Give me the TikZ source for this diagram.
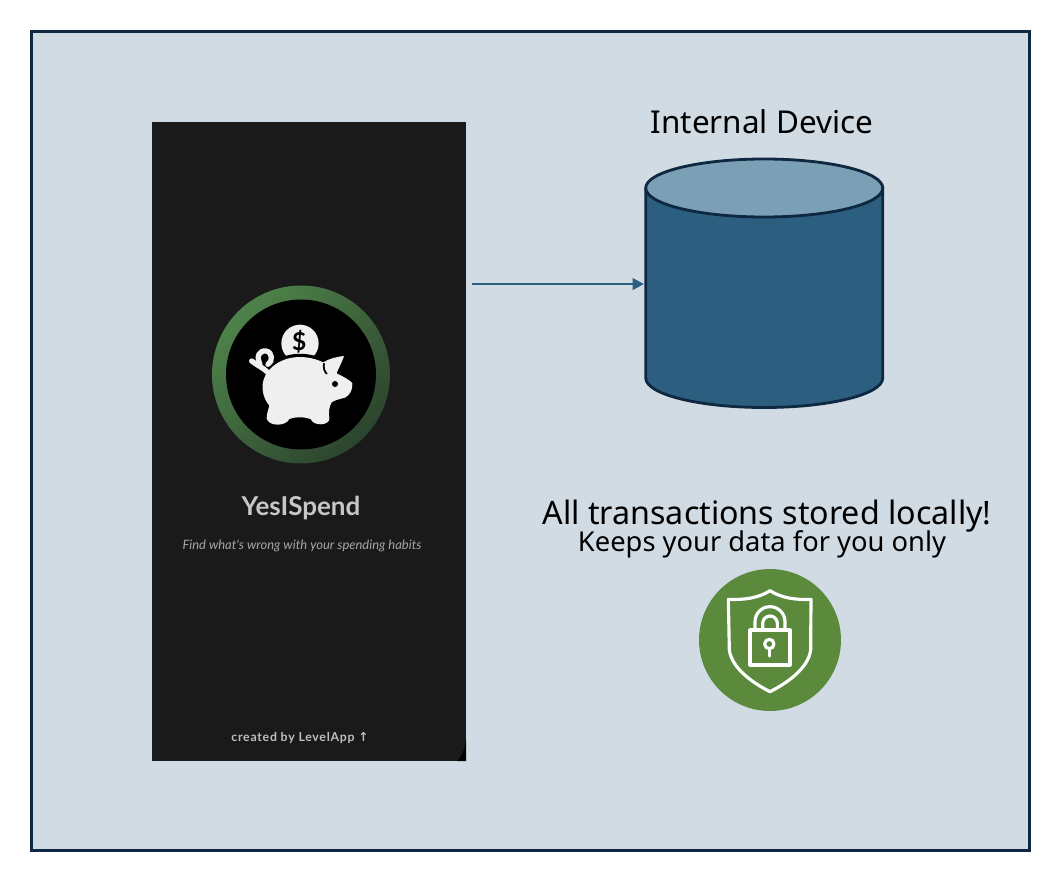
\documentclass[tikz,border=0pt]{standalone}
\usepackage{fontspec}
\usepackage{xcolor}
\setmainfont{Noto Sans}
\newfontfamily\appfont{Lato}
\newfontfamily\symfont{DejaVu Sans}
\usetikzlibrary{arrows.meta,positioning,calc}
\definecolor{navy}{HTML}{0E2841}
\definecolor{panelblue}{HTML}{D0DBE3}
\definecolor{dbblue}{HTML}{2C5E80}
\definecolor{dbtop}{HTML}{7BA0B5}
\definecolor{phoneblack}{HTML}{1A1A1A}
\definecolor{shieldgreen}{HTML}{5B8A3C}
\definecolor{pigwhite}{HTML}{EFEFEF}
\definecolor{ringlight}{HTML}{4E8249}
\definecolor{ringdark}{HTML}{2C442D}

\begin{document}
\begin{tikzpicture}[x=0.02cm, y=-0.02cm,
  panel/.style={draw=navy, line width=1.6pt, fill=panelblue, minimum width=19.96cm, minimum height=16.38cm, inner sep=0pt},
  phone/.style={fill=phoneblack, minimum width=6.28cm, minimum height=12.78cm, inner sep=0pt},
  store/.style={minimum width=4.74cm, minimum height=5cm, inner sep=0pt, outer sep=0pt},
  dbline/.style={draw=navy, line width=1.6pt, line join=round},
  lbl/.style={inner sep=0pt, text=black},
  apptxt/.style={inner sep=0pt, font=\appfont},
  arr/.style={-{Triangle[length=6.5pt, width=6.5pt]}, line width=1.5pt, dbblue, shorten <=3.4pt, shorten >=1pt},
  icon/.style={draw=white, line width=1.8pt, line join=round},
  pigbody/.style={line join=round}]
\useasboundingbox (0,0) rectangle (1058,882);
\node[panel] (frame) at (530.5,441) {};
\node[phone] (app) at (309,441.5) {};
\fill (466,740) .. controls (465,750) and (461,757) .. (457,761) -- (466,761) -- cycle;
\node[store] (db) at (764.25,283) {};
\path[dbline, fill=dbblue] (645.75,188) -- (645.75,378) arc[start angle=180, end angle=0, x radius=118.5, y radius=29.5] -- (882.75,188) -- cycle;
\path[dbline, fill=dbtop] (764.25,188) ellipse [x radius=118.5, y radius=29];
\draw[arr] ([yshift=-0.6pt]app.east |- db.west) -- ([yshift=-0.6pt]db.west);
\node[lbl, font=\fontsize{17.9}{20}\selectfont] (devlabel) at (762,122) {Internal Device};
\node[lbl, font=\fontsize{18.35}{20}\selectfont] (stored) at (767,516) {All transactions stored locally!};
\node[lbl, font=\fontsize{15.55}{17}\selectfont] (keeps) at (762,544.5) {Keeps your data for you only};
% app logo
\node[circle, minimum size=3.56cm, inner sep=0pt, shading=axis, top color=ringlight, bottom color=ringdark, shading angle=45] (ring) at (301,374.5) {};
\node[circle, fill=black, minimum size=3.0cm, inner sep=0pt] (disc) at (ring) {};
\begin{scope}[shift={(200,275)}, x=0.02cm/3, y=-0.02cm/3]
  \fill[pigwhite] (300,205) circle (56);
  \path[pigbody, fill=pigwhite, preaction={draw=black, line width=3.7pt}] (205,288)
    .. controls (235,250) and (300,230) .. (370,262)
    .. controls (385,252) and (410,245) .. (432,243)
    .. controls (425,265) and (415,280) .. (410,295)
    .. controls (430,305) and (450,315) .. (457,325)
    .. controls (458,345) and (450,360) .. (435,368)
    .. controls (420,372) and (405,375) .. (395,382)
    .. controls (388,395) and (385,410) .. (388,430)
    .. controls (390,452) and (340,455) .. (332,432)
    .. controls (310,425) and (285,425) .. (268,432)
    .. controls (258,455) and (205,455) .. (200,430)
    .. controls (200,415) and (205,405) .. (208,392)
    .. controls (185,365) and (178,320) .. (205,288) -- cycle;
  \fill[black] (405,327) circle (9);
  \draw[black, line width=1pt, line cap=round] (372,266) .. controls (370,278) and (372,288) .. (380,296);
  \draw[pigwhite, line width=3pt, line cap=round] (203,292) .. controls (190,278) and (172,272) .. (155,258);
  \draw[pigwhite, line width=3pt, line cap=round] (180,268) .. controls (168,243) and (178,226) .. (198,228) .. controls (218,231) and (219,260) .. (204,268);
  \node[text=black, inner sep=0pt, font=\appfont\bfseries\fontsize{14}{16}\selectfont] (coin) at (298,200) {\$};
\end{scope}
\node[apptxt, text=black!22, font=\appfont\bfseries\fontsize{14.8}{16}\selectfont] (appname) at (301,508) {YesISpend};
\node[apptxt, text=black!35, font=\appfont\itshape\fontsize{7.37}{9}\selectfont] (tagline) at (302,546) {Find what's wrong with your spending habits};
\node[apptxt, text=black!25, font=\appfont\bfseries\fontsize{7}{9}\selectfont] (credit) at (300,738) {\addfontfeature{LetterSpace=6}created by LevelApp {\symfont ↑}};
% lock badge
\node[circle, fill=shieldgreen, minimum size=2.84cm, inner sep=0pt] (badge) at (770,640) {};
\begin{scope}[shift={(690,560)}, x=0.02cm/3, y=-0.02cm/3]
  \draw[icon] (240,92) .. controls (205,115) and (160,120) .. (115,118) -- (118,270)
    .. controls (125,325) and (190,370) .. (240,395)
    .. controls (290,370) and (355,325) .. (362,270) -- (363,118)
    .. controls (320,120) and (275,115) .. (240,92) -- cycle;
  \draw[icon] (180,210) rectangle (300,315);
  \draw[icon] (195,208) -- (195,185) arc[start angle=180, end angle=360, radius=45] -- (285,208);
  \draw[icon] (218,208) -- (218,190) arc[start angle=180, end angle=360, radius=22] -- (262,208);
  \draw[icon] (238,252) circle (14);
  \draw[icon, line cap=round] (238,266) -- (238,288);
\end{scope}
\end{tikzpicture}
\end{document}
